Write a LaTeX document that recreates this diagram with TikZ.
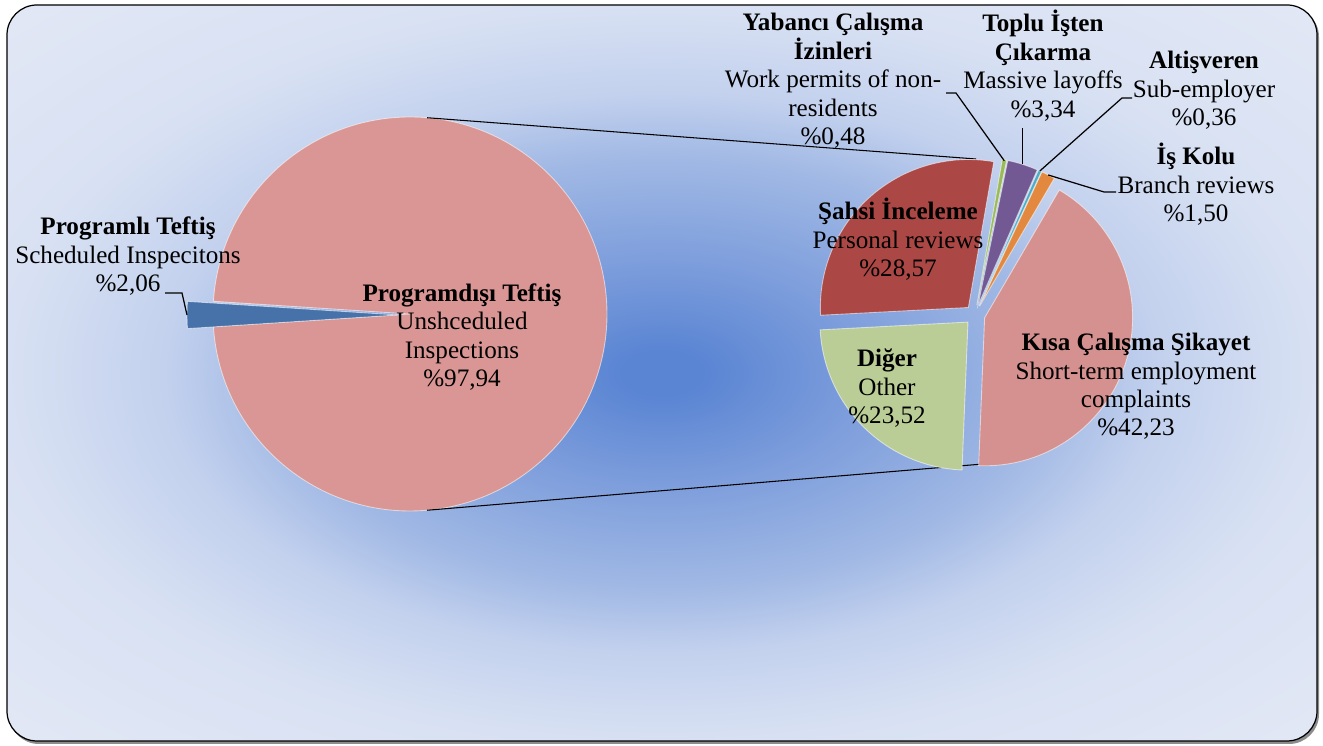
\documentclass[tikz,border=0pt]{standalone}
\usepackage{fontspec}
\setmainfont{Liberation Serif}
\usetikzlibrary{calc}
\definecolor{bgmid}{HTML}{5A85D3}
\definecolor{bgin}{HTML}{7A9BDB}
\definecolor{bgmix}{HTML}{A0B8E4}
\definecolor{bgout}{HTML}{C3D1EE}
\definecolor{bgedge}{HTML}{D8E1F3}
\definecolor{bgcorner}{HTML}{E3E8F5}
\definecolor{unsched}{HTML}{D99694}
\definecolor{sched}{HTML}{4672A9}
\definecolor{sahsi}{HTML}{AB4744}
\definecolor{diger}{HTML}{BBCD96}
\definecolor{kisa}{HTML}{D4918F}
\definecolor{yabanci}{HTML}{9BBB59}
\definecolor{toplu}{HTML}{735993}
\definecolor{altis}{HTML}{4BACC6}
\definecolor{iskolu}{HTML}{E3893F}
\pgfdeclareradialshading{bgshade}{\pgfpoint{0bp}{0bp}}{color(0bp)=(bgmid); color(1.5bp)=(bgmid); color(7bp)=(bgin); color(14.5bp)=(bgmix); color(19bp)=(bgout); color(25bp)=(bgedge); color(36bp)=(bgcorner)}
\tikzset{
  lbl/.style={align=center, inner sep=0pt, font=\fontsize{14.3}{16.2}\selectfont},
  slice/.style={draw=white, draw opacity=0.55, line width=0.5pt},
  leader/.style={draw=black, line width=0.7pt},
  zoomline/.style={draw=black, line width=0.6pt}
}
\begin{document}
\begin{tikzpicture}[x=0.02cm,y=0.02cm]
\useasboundingbox (0,0) rectangle (1323,746);
% frame and background
\fill [black!45, rounded corners=0.6cm] (9,2) rectangle (1319,739);
\shadedraw [shading=bgshade, draw=black, line width=0.7pt, rounded corners=0.6cm] (7,5) rectangle (1317,741);
% first pie
\coordinate (lc) at (410,432);
\coordinate (bc) at (398,431);
\draw [slice,fill=unsched] (lc) -- ++(183.7:197) arc [start angle=183.7, end angle=536.3, radius=197] -- cycle;
\draw [slice,fill=sched] (bc) -- ++(176.3:211) arc [start angle=176.3, end angle=183.7, radius=211] -- cycle;
\coordinate (p-prog) at ($(bc)+(180:211)$);
% lines between the pies
\coordinate (lt) at ($(lc)+(85:197)$);
\coordinate (lb) at ($(lc)+(275:197)$);
\coordinate (rt) at (976,587);
\coordinate (rb) at (983,282);
\draw [zoomline] (lt) -- (rt);
\draw [zoomline] (lb) -- (rb);
% second pie
\coordinate (rc) at (975,431);
\draw [slice,fill=diger] ($(rc)+(225.35:10)$) -- ++(183:148) arc [start angle=183, end angle=267.7, radius=148] -- cycle;
\draw [slice,fill=kisa] ($(rc)+(343.7:10)$) -- ++(267.7:148) arc [start angle=267.7, end angle=419.7, radius=148] -- cycle;
\draw [slice,fill=iskolu] ($(rc)+(62.4:10)$) -- ++(59.7:148) arc [start angle=59.7, end angle=65.1, radius=148] -- cycle;
\draw [slice,fill=altis] ($(rc)+(65.75:10)$) -- ++(65.1:148) arc [start angle=65.1, end angle=66.4, radius=148] -- cycle;
\draw [slice,fill=toplu] ($(rc)+(72.4:10)$) -- ++(66.4:148) arc [start angle=66.4, end angle=78.4, radius=148] -- cycle;
\draw [slice,fill=yabanci] ($(rc)+(79.25:10)$) -- ++(78.4:148) arc [start angle=78.4, end angle=80.1, radius=148] -- cycle;
\draw [slice,fill=sahsi] ($(rc)+(131.55:10)$) -- ++(80.1:148) arc [start angle=80.1, end angle=183, radius=148] -- cycle;
\coordinate (p-is) at ($(rc)+(62.4:158)$);
\coordinate (p-alt) at ($(rc)+(65.75:158)$);
\coordinate (p-top) at ($(rc)+(72.4:158)$);
\coordinate (p-yab) at ($(rc)+(79.25:157)$);
% labels
\node [lbl] (prog) at (128,489.5) {\textbf{Programlı Teftiş}\\Scheduled Inspecitons\\\%2,06};
\node [lbl] (progd) at (462,409) {\textbf{Programdışı Teftiş}\\Unshceduled\\Inspections\\\%97,94};
\node [lbl] (yab) at (833,665) {\textbf{Yabancı Çalışma}\\\textbf{İzinleri}\\Work permits of non-\\residents\\\%0,48};
\node [lbl] (top) at (1043,680.5) {\textbf{Toplu İşten}\\\textbf{Çıkarma}\\Massive layoffs\\\%3,34};
\node [lbl] (alt) at (1204,655.5) {\textbf{Altişveren}\\Sub-employer\\\%0,36};
\node [lbl] (is) at (1196,561.5) {\textbf{İş Kolu}\\Branch reviews\\\%1,50};
\node [lbl] (sahsi) at (898,506.5) {\textbf{Şahsi İnceleme}\\Personal reviews\\\%28,57};
\node [lbl] (dig) at (887,357.5) {\textbf{Diğer}\\Other\\\%23,52};
\node [lbl] (kisa) at (1136,359.5) {\textbf{Kısa Çalışma Şikayet}\\Short-term employment\\complaints\\\%42,23};
% leader lines
\coordinate (prog-a) at (165,453);
\coordinate (prog-b) at (182,453);
\draw [leader] (prog-a) -- (prog-b) -- (p-prog);
\coordinate (yab-a) at (946,653);
\coordinate (yab-b) at (956,653);
\draw [leader] (yab-a) -- (yab-b) -- (p-yab);
\coordinate (top-a) at ($(p-top)+(0,36)$);
\draw [leader] (top-a) -- (p-top);
\coordinate (alt-a) at (1132,648);
\coordinate (alt-b) at (1122,648);
\draw [leader] (alt-a) -- (alt-b) -- (p-alt);
\coordinate (is-a) at (1104,554);
\coordinate (is-b) at (1116,554);
\draw [leader] (p-is) -- (is-a) -- (is-b);
\end{tikzpicture}
\end{document}
